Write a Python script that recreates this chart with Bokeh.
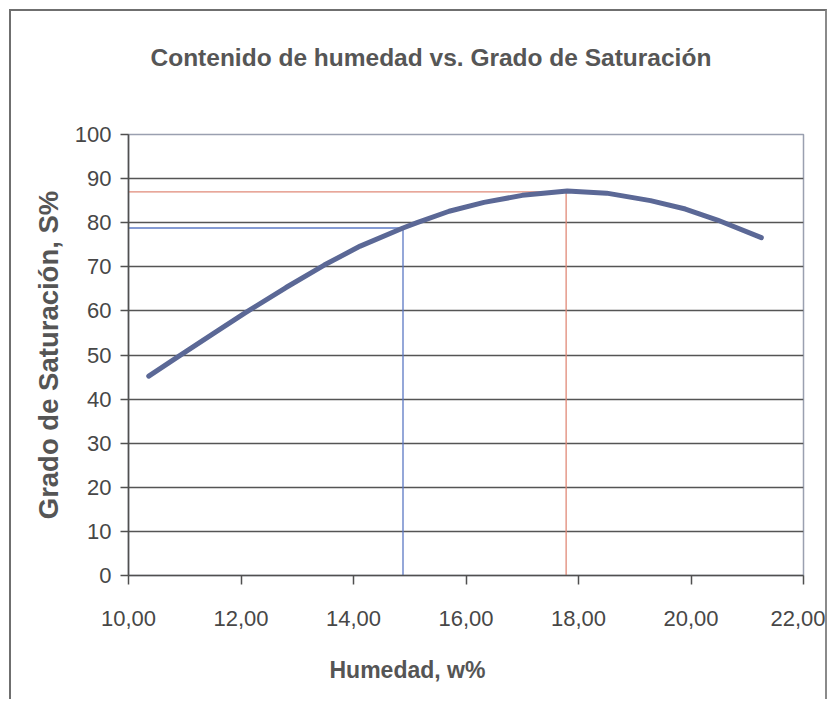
from bokeh.plotting import figure
from bokeh.models import FixedTicker, Range1d, Title, LinearAxis
from bokeh.embed import file_html
from bokeh.resources import INLINE

# ---- data ----
humedad = [10.36, 10.89, 11.5, 12.08, 12.8, 13.48, 14.12, 14.88, 15.13, 15.7,
           16.32, 17.0, 17.8, 18.5, 19.28, 19.9, 20.47, 21.25]
saturacion = [45.2, 49.7, 54.8, 59.6, 65.3, 70.4, 74.7, 78.8, 80.0, 82.6,
              84.6, 86.2, 87.2, 86.7, 85.0, 83.1, 80.6, 76.6]

ref_w = [14.88, 17.78]
ref_s = [78.8, 87.0]
ref_colors = ["#5b78c4", "#e08a78"]

x_ticks = [10, 12, 14, 16, 18, 20, 22]
x_tick_labels = ["10,00", "12,00", "14,00", "16,00", "18,00", "20,00", "22,00"]
y_ticks = [0, 10, 20, 30, 40, 50, 60, 70, 80, 90, 100]

FONT = "Liberation Sans"

p = figure(width=818, height=690, output_backend="svg", toolbar_location=None,
           title=None,
           x_range=Range1d(10, 22), y_range=Range1d(0, 100),
           min_border_left=117, min_border_right=26, min_border_top=123,
           min_border_bottom=126)
p.margin = (9, 0, 0, 9)
p.styles = {"border-top": "2px solid #6f6f6f", "border-left": "2px solid #6f6f6f",
            "border-right": "2px solid #8a8a8a"}

xa = p.xaxis[0]
ya = p.yaxis[0]

p.background_fill_color = "white"
p.border_fill_color = "white"
p.outline_line_color = "#9aa0b0"
p.outline_line_width = 1.5

# grid
p.xgrid.visible = False
p.ygrid.ticker = FixedTicker(ticks=y_ticks[1:-1])
p.ygrid.grid_line_color = "#555555"
p.ygrid.grid_line_width = 1.6

# axes
for ax in (xa, ya):
    ax.axis_line_color = "#505050"
    ax.axis_line_width = 1.6
    ax.major_tick_line_color = "#505050"
    ax.major_tick_line_width = 1.5
    ax.major_tick_in = 0
    ax.minor_tick_line_color = None
    ax.major_label_text_font = FONT
    ax.major_label_text_font_size = "22px"
    ax.major_label_text_color = "#474747"

xa.ticker = FixedTicker(ticks=x_ticks)
xa.major_label_overrides = {t: l for t, l in zip(x_ticks, x_tick_labels)}
xa.major_tick_out = 9
xa.major_label_standoff = 26

ya.ticker = FixedTicker(ticks=y_ticks)
ya.major_tick_out = 8
ya.major_label_standoff = 9
ya.axis_label = "Grado de Saturación, S%"
ya.axis_label_text_font = FONT
ya.axis_label_text_font_size = "27.5px"
ya.axis_label_text_font_style = "bold"
ya.axis_label_text_color = "#555555"
ya.axis_label_standoff = 8


def spacer(size):
    # invisible axis (one hidden tick, empty label) that only reserves space
    t0 = x_ticks[0]
    return LinearAxis(ticker=FixedTicker(ticks=[t0]), axis_line_color=None,
                      major_tick_line_color=None, minor_tick_line_color=None,
                      major_tick_in=0, major_tick_out=size, minor_tick_out=0,
                      minor_tick_in=0, major_label_standoff=0,
                      major_label_overrides={t0: ""},
                      major_label_text_font_size="1px")


# chart title (spacer sits between the frame and the title)
p.add_layout(spacer(59), "above")
p.add_layout(Title(text="Contenido de humedad vs. Grado de Saturación",
                   text_font=FONT, text_font_size="24.5px", text_font_style="bold",
                   text_color="#565656", align="left", offset=22, standoff=10),
             "above")

# x axis title, placed left of centre as in the reference
p.add_layout(spacer(21), "below")
p.add_layout(Title(text="Humedad, w%", text_font=FONT, text_font_size="23px",
                   text_font_style="bold", text_color="#555555", align="left",
                   offset=201, standoff=10),
             "below")

# reference lines
for w, s, c in zip(ref_w, ref_s, ref_colors):
    p.segment(x0=[p.x_range.start], y0=[s], x1=[w], y1=[s], line_color=c, line_width=1.3)
    p.segment(x0=[w], y0=[p.y_range.start], x1=[w], y1=[s], line_color=c, line_width=1.3)

# curve
p.line(humedad, saturacion, line_color="#5b6896", line_width=5, line_join="round",
       line_cap="round")

open("out.html", "w").write(file_html(p, INLINE))
